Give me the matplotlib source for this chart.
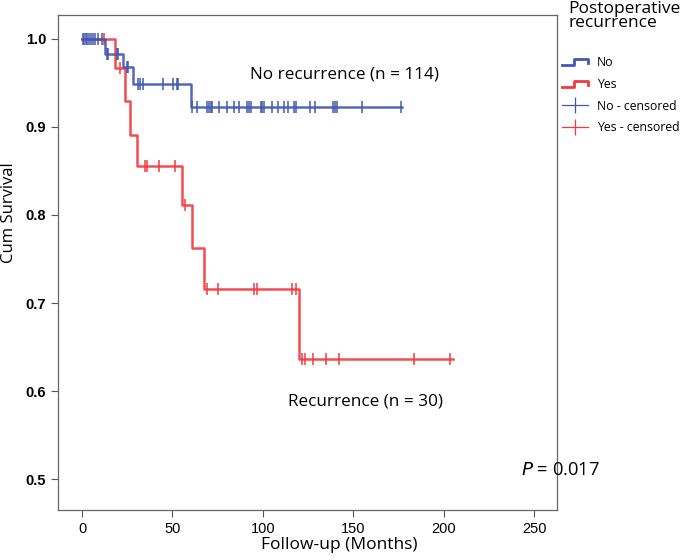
import numpy as np
import matplotlib
matplotlib.use("Agg")
import matplotlib.pyplot as plt
from matplotlib.lines import Line2D
from matplotlib.legend_handler import HandlerBase

# Kaplan-Meier steps (event time, survival after it)
no_times = [0, 12.7, 22.7, 28.2, 60.0]
no_surv = [1.0, 0.983, 0.968, 0.949, 0.923]
no_end = 177
no_cens = [0.5, 1, 2, 3, 4, 5, 6, 7, 9, 11, 13.6, 14.5, 19.2, 20, 24.7, 25.6,
           30.8, 32, 33.9, 44.9, 50.5, 52.3, 53.2, 60.6, 63.4, 69.2, 70.2, 71.1,
           72.0, 75.9, 79.9, 84.0, 86.9, 91.3, 92.4, 93.7, 98.9, 99.8, 100.7,
           104.9, 108.4, 111.6, 114.1, 117.2, 118.6, 125.9, 129.1, 138.8,
           139.8, 141.1, 155.1, 176.6]

yes_times = [0, 18.2, 23.8, 26.5, 30.2, 55.1, 60.6, 67.6, 119.9]
yes_surv = [1.0, 0.967, 0.929, 0.891, 0.856, 0.811, 0.762, 0.716, 0.636]
yes_end = 205
yes_cens = [12, 21, 34.8, 35.7, 42.7, 51.4, 57, 68.9, 75.3, 95, 96.9, 116.4,
            118.6, 121.9, 123.2, 127.8, 135.2, 142.2, 183.6, 203.3]

xticks = [0, 50, 100, 150, 200, 250]
yticks = [0.5, 0.6, 0.7, 0.8, 0.9, 1.0]

blue = "#4258b0"
red = "#f23a3e"
font = ["Open Sans", "DejaVu Sans"]


def surv_at(times, surv, t):
    i = np.searchsorted(times, t, side="right") - 1
    return np.array(surv)[i]


class HandlerStep(HandlerBase):
    def create_artists(self, legend, orig, xd, yd, w, h, fontsize, trans):
        xs = np.array([0, 0.45, 0.45, 1.0, 1.0]) * w - xd
        ys = np.array([0.1, 0.1, 0.85, 0.85, 0.35]) * h - yd
        ln = Line2D(xs, ys, color=orig.get_color(), lw=orig.get_linewidth())
        ln.set_transform(trans)
        return [ln]


fig = plt.figure(figsize=(6.85, 5.6), dpi=100)
ax = fig.add_axes([58 / 685, 1 - 510 / 560, (557 - 58) / 685, (510 - 15) / 560])

for times, surv, end, cens, col in [(yes_times, yes_surv, yes_end, yes_cens, red),
                                    (no_times, no_surv, no_end, no_cens, blue)]:
    tx = list(times) + [end]
    sy = list(surv) + [surv[-1]]
    ax.step(tx, sy, where="post", color=col, lw=1.8, alpha=0.9)
    cy = surv_at(times, surv, cens)
    ax.plot(cens, cy, ls="none", marker="|", ms=8, mew=1.1, color=col)

ax.set_xlim(-13.3, 262.7)
ax.set_ylim(0.465, 1.027)
ax.set_xticks(xticks)
ax.set_yticks(yticks)
ax.set_yticklabels([f"{v:.1f}" for v in yticks], fontweight="bold",
                   family="Liberation Sans", fontsize=10.5)
ax.set_xticklabels([str(v) for v in xticks], family="Liberation Sans", fontsize=10.5)
ax.tick_params(direction="out", length=5, width=0.8, color="#555555")
for s in ax.spines.values():
    s.set_color("#666666")
    s.set_linewidth(0.9)

ax.set_xlabel("Follow-up (Months)", family=font, fontsize=12.5)
ax.set_ylabel("Cum Survival", family=font, fontsize=12)
ax.xaxis.set_label_coords(0.563, -0.055)
ax.yaxis.set_label_coords(-0.083, 0.6)

ax.text(93, 0.96, "No recurrence (n = 114)", family=font, fontsize=12.3, va="center")
ax.text(114, 0.588, "Recurrence (n = 30)", family=font, fontsize=12.3, va="center")
ax.text(243, 0.51, r"$\it{P}$ = 0.017", family=font, fontsize=13.2, va="center")

fig.text(568 / 685, 1 - 1 / 560, "Postoperative\nrecurrence", family=font,
         fontsize=12.5, va="top", ha="left", linespacing=0.85)

handles = [Line2D([], [], color=blue, lw=2), Line2D([], [], color=red, lw=2),
           Line2D([], [], color=blue, lw=0.9, marker="|", ms=12, mew=0.9),
           Line2D([], [], color=red, lw=0.9, marker="|", ms=12, mew=0.9)]
labels = ["No", "Yes", "No - censored", "Yes - censored"]
fig.legend(handles, labels, loc="upper left", bbox_to_anchor=(562 / 685, 1 - 56 / 560),
           frameon=False, prop={"family": font, "size": 8.8}, handlelength=2.1,
           handletextpad=0.75, labelspacing=0.72, borderaxespad=0, borderpad=0,
           handler_map={handles[0]: HandlerStep(), handles[1]: HandlerStep()})

fig.savefig("out.png", dpi=100)
